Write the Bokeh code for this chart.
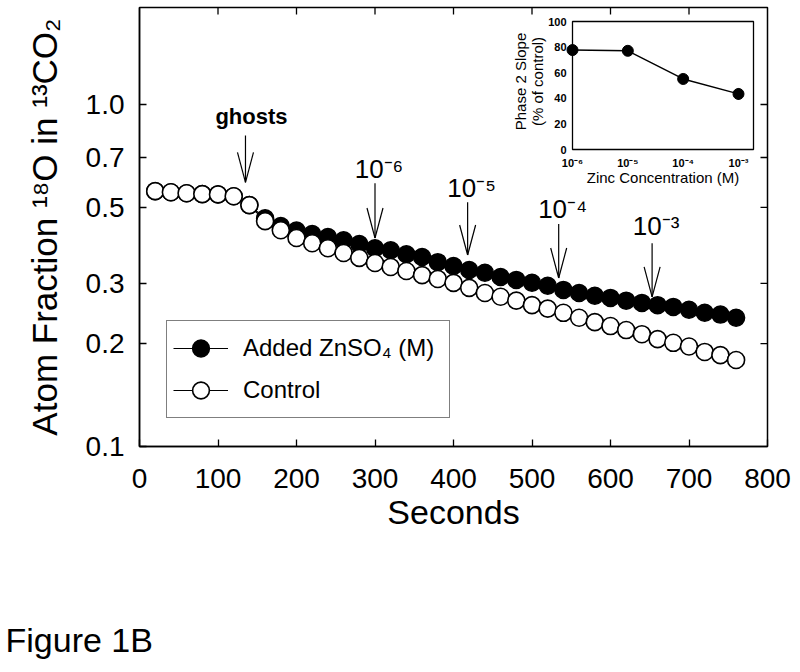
import math
from bokeh.plotting import figure
from bokeh.models import (Range1d, FixedTicker, PrintfTickFormatter, Legend,
                          LegendItem, Title, LogScale, LinearScale)
from bokeh.core.properties import value
from bokeh.embed import file_html
from bokeh.resources import INLINE

FONT = "Liberation Sans"

# ---------------- data ----------------
seconds = [20, 40, 60, 80, 100, 120, 140, 160, 180, 200, 220, 240, 260, 280,
           300, 320, 340, 360, 380, 400, 420, 440, 460, 480, 500, 520, 540,
           560, 580, 600, 620, 640, 660, 680, 700, 720, 740, 760]
control = [0.558, 0.554, 0.550, 0.547, 0.546, 0.539, 0.508, 0.456, 0.429,
           0.407, 0.393, 0.380, 0.368, 0.356, 0.344, 0.335, 0.326, 0.317,
           0.309, 0.301, 0.291, 0.281, 0.274, 0.267, 0.259, 0.253, 0.246,
           0.238, 0.231, 0.225, 0.219, 0.213, 0.206, 0.201, 0.196, 0.189,
           0.185, 0.179]
zinc = [0.558, 0.554, 0.550, 0.547, 0.546, 0.539, 0.508, 0.465, 0.441,
        0.428, 0.418, 0.410, 0.401, 0.391, 0.380, 0.375, 0.365, 0.358,
        0.346, 0.337, 0.328, 0.322, 0.313, 0.307, 0.301, 0.295, 0.287,
        0.281, 0.276, 0.272, 0.267, 0.263, 0.259, 0.256, 0.251, 0.246,
        0.243, 0.238]

x_ticks = [0, 100, 200, 300, 400, 500, 600, 700, 800]
y_ticks = [0.1, 0.2, 0.3, 0.5, 0.7, 1.0]

arrow_x = [135, 300, 418, 534, 653]
arrow_tail = [0.812, 0.588, 0.518, 0.447, 0.393]
arrow_tip = [0.592, 0.407, 0.363, 0.311, 0.274]
arrow_text = ["ghosts", "10\u207b\u2076", "10\u207b\u2075", "10\u207b\u2074", "10\u207b\u00b3"]

# inset
conc = [1e-6, 1e-5, 1e-4, 1e-3]
conc_labels = ["10\u207b\u2076", "10\u207b\u2075", "10\u207b\u2074", "10\u207b\u00b3"]
slope = [77.7, 77.1, 55.1, 43.4]
slope_err = [1.5, 1.5, 2.0, 4.5]
slope_ticks = [0, 20, 40, 60, 80, 100]

caption = "Figure 1B"

# ---------------- layout ----------------
W, H = 800, 672
BL, BR, BT = 139, 33, 7
FRAME_BOTTOM = 446
BB = H - FRAME_BOTTOM
FRAME_W = W - BL - BR
FRAME_H = FRAME_BOTTOM - BT
DEC_PX = 342.0
Y0 = 0.1
Y1 = 10 ** (math.log10(Y0) + FRAME_H / DEC_PX)

p = figure(width=W, height=H, x_range=Range1d(0, 800), y_range=Range1d(Y0, Y1),
           y_axis_type="log", output_backend="svg", toolbar_location=None,
           min_border_left=BL, min_border_right=BR, min_border_top=BT,
           min_border_bottom=BB)
p.background_fill_color = "white"
p.border_fill_color = "white"
p.outline_line_color = "black"
p.outline_line_width = 1.5
p.xgrid.visible = False
p.ygrid.visible = False

for ax in (p.xaxis[0], p.yaxis[0]):
    ax.axis_line_color = "black"
    ax.axis_line_width = 1.5
    ax.major_tick_in = 7
    ax.major_tick_out = 0
    ax.major_tick_line_width = 1.3
    ax.minor_tick_line_color = None
    ax.major_label_text_font = FONT
    ax.major_label_text_font_size = "28px"
    ax.major_label_text_color = "black"
    ax.axis_label_text_font = FONT
    ax.axis_label_text_font_style = "normal"
    ax.axis_label_text_color = "black"

p.xaxis.ticker = FixedTicker(ticks=x_ticks)
p.yaxis.ticker = FixedTicker(ticks=y_ticks)
p.yaxis.formatter = PrintfTickFormatter(format="%.1f")
p.xaxis.major_label_standoff = 22
p.yaxis.major_label_standoff = 15
p.xaxis.axis_label = "Seconds"
p.yaxis.axis_label = "Atom Fraction \u00b9\u2078O in \u00b9\u00b3CO\u2082"
p.xaxis.axis_label_text_font_size = "34px"
p.yaxis.axis_label_text_font_size = "35px"
p.xaxis.axis_label_standoff = 2
p.yaxis.axis_label_standoff = 19

# mirrored ticks on top and right
p.ray(x=x_ticks[1:-1], y=Y1, length=7, length_units="screen", angle=-math.pi / 2,
      line_color="black", line_width=1.3)
p.ray(x=800, y=y_ticks[1:], length=7, length_units="screen", angle=math.pi,
      line_color="black", line_width=1.3)

# series
lf = p.line(seconds, zinc, line_color="black", line_width=1.2)
sf = p.scatter(seconds, zinc, size=17, marker="circle", fill_color="black",
               line_color="black", line_width=1.5)
lc = p.line(seconds, control, line_color="black", line_width=1.2)
sc = p.scatter(seconds, control, size=17, marker="circle", fill_color="white",
               line_color="black", line_width=1.6)

# arrows
HEAD_PX = 30
HALF_W_PX = 8
head_factor = 10 ** (HEAD_PX / DEC_PX)
dx = HALF_W_PX * 800 / FRAME_W
p.segment(x0=arrow_x, y0=arrow_tail, x1=arrow_x, y1=arrow_tip,
          line_color="black", line_width=1.2)
p.segment(x0=[x - dx for x in arrow_x], y0=[t * head_factor for t in arrow_tip],
          x1=arrow_x, y1=arrow_tip, line_color="black", line_width=1.2)
p.segment(x0=[x + dx for x in arrow_x], y0=[t * head_factor for t in arrow_tip],
          x1=arrow_x, y1=arrow_tip, line_color="black", line_width=1.2)
p.text(x=arrow_x[:1], y=arrow_tail[:1], text=arrow_text[:1], x_offset=6, y_offset=-19,
       text_font=value(FONT), text_font_size=value("22px"), text_font_style="bold",
       text_align="center", text_baseline="alphabetic", text_color="black")
p.text(x=arrow_x[1:], y=arrow_tail[1:], text=arrow_text[1:], x_offset=4,
       y_offset=[-14, -14, -15, -17],
       text_font=value(FONT), text_font_size=value("26px"),
       text_align="center", text_baseline="alphabetic", text_color="black")

# legend
legend = Legend(items=[LegendItem(label="Added ZnSO\u2084 (M)", renderers=[lf, sf]),
                       LegendItem(label="Control", renderers=[lc, sc])],
                location=(27, 28))
legend.label_text_font = FONT
legend.label_text_font_size = "24px"
legend.label_text_color = "black"
legend.glyph_width = 55
legend.glyph_height = 42
legend.spacing = 0
legend.padding = 6
legend.margin = 0
legend.label_width = 200
legend.label_standoff = 15
legend.border_line_color = "black"
legend.border_line_width = 1.5
legend.background_fill_alpha = 1.0
p.add_layout(legend)

# ---------------- inset (own scales mapped onto a sub-box) ----------------
IB_L, IB_R, IB_T, IB_B = 433, 614, 14, 142   # inset box, px from frame left/top
INS_DEC = 55.33
ix_lo = math.log10(conc[0]) - IB_L / INS_DEC
ix_hi = math.log10(conc[0]) + (FRAME_W - IB_L) / INS_DEC
iy_px = (IB_B - IB_T) / 100.0
iy_lo = -(FRAME_H - IB_B) / iy_px
iy_hi = 100 + IB_T / iy_px
p.extra_x_ranges = {"ix": Range1d(10 ** ix_lo, 10 ** ix_hi)}
p.extra_x_scales = {"ix": LogScale()}
p.extra_y_ranges = {"iy": Range1d(iy_lo, iy_hi)}
p.extra_y_scales = {"iy": LinearScale()}
box_right = 10 ** (math.log10(conc[0]) + (IB_R - IB_L) / INS_DEC)
ik = dict(x_range_name="ix", y_range_name="iy")

p.quad(left=conc[0], right=box_right, bottom=slope_ticks[0], top=slope_ticks[-1],
       fill_color="white", line_color="black", line_width=1.3, **ik)
p.line(conc, slope, line_color="black", line_width=1.4, **ik)
p.segment(x0=conc, y0=[s - e for s, e in zip(slope, slope_err)],
          x1=conc, y1=[s + e for s, e in zip(slope, slope_err)],
          line_color="black", line_width=1.4, **ik)
p.scatter(conc, slope, size=11, marker="circle", fill_color="black",
          line_color="black", **ik)
p.text(x=[conc[0]] * len(slope_ticks), y=slope_ticks, text=[str(t) for t in slope_ticks],
       x_offset=-6, text_align="right", text_baseline="middle",
       text_font=value(FONT), text_font_size=value("11px"), text_font_style="bold",
       text_color="black", **ik)
p.text(x=conc, y=[slope_ticks[0]] * len(conc), text=conc_labels, y_offset=7,
       text_align="center", text_baseline="top",
       text_font=value(FONT), text_font_size=value("11px"), text_font_style="bold",
       text_color="black", **ik)
xmid = 10 ** ((math.log10(conc[0]) + math.log10(box_right)) / 2)
p.text(x=[xmid], y=[slope_ticks[0]], text=["Zinc Concentration (M)"], y_offset=19,
       text_align="center", text_baseline="top",
       text_font=value(FONT), text_font_size=value("15px"), text_color="black", **ik)
p.text(x=[conc[0], conc[0]], y=[50, 50], text=["Phase 2 Slope", "(% of control)"],
       x_offset=[-52, -35], y_offset=-4, angle=math.pi / 2,
       text_align="center", text_baseline="middle",
       text_font=value(FONT), text_font_size=value("15px"), text_color="black", **ik)

# figure caption in the panel below the x axis (two empty lines push it down)
cap = Title(text="\n\n" + caption, align="left", offset=-134, standoff=18,
            text_font=FONT, text_font_size="34px", text_font_style="normal",
            text_color="black")
p.add_layout(cap, "below")

open("out.html", "w").write(file_html(p, INLINE))
